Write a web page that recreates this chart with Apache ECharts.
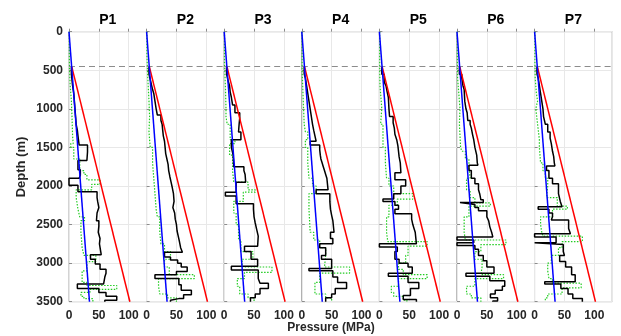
<!DOCTYPE html>
<html><head><meta charset="utf-8">
<script src="https://cdn.jsdelivr.net/npm/echarts@6/dist/echarts.min.js"></script>
<style>html,body{margin:0;padding:0;background:#fff}#c{width:621px;height:336px}</style>
</head><body><div id="c"></div>
<script>
// ---- data ----
const panelNames = ['P1','P2','P3','P4','P5','P6','P7'];
const xTicks = [0, 50, 100];
const depthTicks = [0, 500, 1000, 1500, 2000, 2500, 3000, 3500];
const dashDepth = 445;
// [pressure MPa, depth m]
const hydroLine = [[0, 0], [34.3, 3500]];
const lithoLine = [[4.5, 450], [102, 3500]];

// step profiles: [depth where value starts, value MPa]
const p1Black = [[450,4],[550,6],[700,8],[800,9],[900,10],[1000,11],[1100,12],[1200,14],[1280,15],[1350,17],[1470,31],[1560,30],[1670,15],[1790,19],[1860,17],[1900,0],[1990,15],[2075,47],[2150,48],[2200,50],[2280,47],[2350,46],[2450,50],[2520,49],[2600,52],[2680,51],[2750,54],[2890,36],[2950,44],[3010,52],[3080,62],[3130,60],[3180,58],[3270,14],[3330,50],[3380,62],[3430,80],[3480,60]];
const p1Green = [[0,0.5],[300,1],[500,2],[700,4],[900,5],[1100,6],[1350,7],[1450,3],[1500,8],[1650,18],[1800,25],[1850,30],[1920,52],[1980,38],[2050,12],[2150,15],[2300,18],[2400,26],[2450,20],[2600,22],[2800,25],[2900,45],[2980,30],[3100,22],[3250,30],[3290,80],[3340,35],[3380,20],[3430,25],[3460,40]];
const p2Black = [[450,4],[550,7],[650,10],[750,12],[800,14],[900,16],[1000,18],[1080,24],[1150,26],[1200,27],[1280,28],[1350,30],[1420,31],[1500,32],[1580,34],[1650,36],[1720,37],[1800,39],[1880,41],[1950,43],[2020,45],[2100,46],[2200,44],[2280,47],[2350,48],[2430,50],[2500,51],[2580,53],[2650,55],[2720,57],[2800,60],[2860,30],[2920,40],[2960,52],[3000,58],[3050,68],[3110,50],[3150,14],[3200,54],[3280,58],[3350,75],[3410,62],[3460,54],[3480,40]];
const p2Green = [[0,0.5],[300,2],[600,4],[900,5],[1100,4],[1300,6],[1500,10],[1700,12],[1900,14],[2100,16],[2300,18],[2400,22],[2600,24],[2750,30],[2850,40],[2950,30],[3050,38],[3150,80],[3200,20],[3300,22],[3400,35],[3450,50]];
const p3Black = [[450,4],[550,7],[650,9],[700,10],[780,12],[850,14],[950,18],[1050,26],[1120,25],[1200,24],[1300,28],[1400,12],[1500,15],[1600,16],[1750,33],[1800,35],[1850,36],[1950,20],[2080,2],[2130,20],[2230,49],[2300,50],[2400,52],[2480,54],[2550,57],[2650,56],[2780,34],[2850,45],[2950,56],[3040,12],[3090,57],[3200,60],[3260,74],[3330,60],[3400,52],[3450,44]];
const p3Green = [[0,0.5],[400,2],[700,3],[1000,3],[1100,5],[1200,10],[1400,18],[1450,9],[1600,14],[1800,16],[1950,40],[2050,52],[2080,32],[2200,16],[2350,20],[2500,24],[2700,28],[2850,48],[2950,30],[3050,80],[3120,34],[3200,22],[3300,26],[3400,40],[3450,50]];
const p4Black = [[450,4],[550,6],[600,8],[700,10],[800,12],[900,14],[1000,16],[1100,18],[1200,20],[1280,22],[1350,24],[1420,14],[1470,30],[1530,31],[1600,32],[1650,34],[1700,36],[1750,38],[1800,40],[1850,42],[1900,44],[2050,24],[2100,47],[2200,48],[2300,50],[2380,52],[2450,54],[2600,48],[2680,52],[2750,30],[2800,40],[2900,33],[2950,50],[3070,12],[3100,52],[3180,60],[3250,75],[3330,56],[3400,50],[3450,40]];
const p4Green = [[0,0.5],[500,2],[800,3],[1000,4],[1200,6],[1300,10],[1400,6],[1500,10],[1700,12],[1900,18],[2000,24],[2100,12],[2300,14],[2600,20],[2700,30],[2800,40],[2900,38],[3050,80],[3130,30],[3250,22],[3400,40],[3450,50]];
const p5Black = [[450,4],[550,8],[650,11],[700,13],[780,15],[850,16],[1000,17],[1100,23],[1180,25],[1250,26],[1330,29],[1400,31],[1480,32],[1550,33],[1620,35],[1700,36],[1830,26],[1920,44],[2000,36],[2100,24],[2170,6],[2200,26],[2250,32],[2300,26],[2360,54],[2430,56],[2500,58],[2550,60],[2600,62],[2750,0],[2790,30],[2850,26],[2950,33],[3000,48],[3050,55],[3130,15],[3170,48],[3250,66],[3330,52],[3420,40],[3470,62]];
const p5Green = [[0,0.5],[500,1],[700,3],[900,4],[1000,2],[1200,6],[1500,10],[1700,12],[1900,16],[2000,24],[2100,56],[2170,30],[2250,16],[2400,12],[2600,14],[2720,80],[2780,48],[2900,44],[3000,32],[3080,40],[3150,80],[3200,32],[3300,20],[3380,24],[3430,40],[3480,46]];
const p6Black = [[450,4],[550,8],[600,10],[700,12],[750,13],[900,15],[1000,17],[1050,18],[1150,22],[1200,24],[1250,26],[1330,28],[1400,30],[1500,33],[1600,34],[1700,35],[1730,20],[1800,24],[1900,30],[1970,36],[2050,38],[2100,40],[2180,44],[2215,5],[2240,30],[2280,36],[2320,50],[2400,53],[2450,55],[2530,58],[2600,60],[2660,0],[2700,28],[2735,0],[2770,30],[2820,36],[2900,44],[2970,50],[3050,62],[3130,15],[3170,55],[3230,80],[3300,76],[3350,64],[3400,56],[3450,68],[3490,60]];
const p6Green = [[0,0.5],[300,1],[600,3],[800,5],[1000,4],[1200,6],[1500,8],[1550,14],[1650,20],[1750,22],[1900,16],[2050,22],[2150,30],[2220,56],[2260,20],[2400,12],[2500,12],[2600,14],[2700,82],[2760,40],[2850,30],[2950,42],[3050,40],[3150,78],[3200,30],[3300,16],[3400,24],[3450,40]];
const p7Black = [[450,4],[550,6],[600,8],[700,10],[800,12],[900,14],[1000,15],[1100,18],[1200,22],[1300,26],[1380,28],[1450,30],[1550,32],[1620,33],[1700,34],[1740,20],[1800,24],[1900,30],[1970,40],[2100,43],[2200,46],[2270,6],[2300,24],[2350,30],[2400,28],[2440,57],[2550,60],[2620,0],[2660,36],[2735,0],[2760,48],[2850,50],[2900,42],[2980,52],[3050,62],[3150,68],[3240,17],[3270,44],[3330,56],[3400,64],[3460,80]];
const p7Green = [[0,0.5],[400,1],[600,3],[800,5],[900,2],[1000,5],[1200,8],[1400,8],[1500,10],[1700,14],[1800,18],[1900,22],[2000,20],[2150,38],[2260,55],[2300,30],[2400,10],[2500,12],[2600,14],[2650,80],[2720,46],[2800,40],[2900,28],[3000,22],[3100,24],[3200,30],[3260,78],[3320,46],[3400,22],[3450,18]];

const blackProfiles = [p1Black,p2Black,p3Black,p4Black,p5Black,p6Black,p7Black];
const greenProfiles = [p1Green,p2Green,p3Green,p4Green,p5Green,p6Green,p7Green];

// ---- build ----
const maxDepth = 3500;
function toSteps(profile) {
  const out = [];
  for (let i = 0; i < profile.length; i++) {
    const d0 = profile[i][0], v = profile[i][1];
    const d1 = i + 1 < profile.length ? profile[i + 1][0] : maxDepth;
    out.push([v, d0]); out.push([v, d1]);
  }
  return out;
}

const font = 'Liberation Sans, Arial, Helvetica, sans-serif';
const txt = '#262626';
const L0 = 69, PW = 77.6, TOP = 31.7, PH = 270;

const grids = [], xAxes = [], yAxes = [], series = [], texts = [];
panelNames.forEach((name, i) => {
  grids.push({left: L0 + i * PW, top: TOP, width: PW, height: PH, show: true,
    borderColor: '#a6a6a6', borderWidth: 1, backgroundColor: '#fff'});
  xAxes.push({gridIndex: i, type: 'value', min: 0, max: 130, interval: 50,
    axisLine: {show: false}, axisTick: {show: true, inside: true, length: 3, lineStyle: {color: '#8c8c8c'}},
    splitLine: {show: true, lineStyle: {color: '#e8e8e8', width: 1}},
    axisLabel: {show: true, showMaxLabel: false, color: txt, fontSize: 12, fontWeight: 'bold', fontFamily: font, margin: 8,
      formatter: v => xTicks.includes(v) ? String(v) : ''}});
  yAxes.push({gridIndex: i, type: 'value', inverse: true, min: 0, max: maxDepth, interval: 500,
    axisLine: {show: false}, axisTick: {show: true, inside: true, length: 3, lineStyle: {color: '#8c8c8c'}},
    splitLine: {show: true, lineStyle: {color: '#e8e8e8', width: 1}},
    axisLabel: {show: i === 0, color: txt, fontSize: 12, fontWeight: 'bold', fontFamily: font, margin: 6,
      formatter: v => depthTicks.includes(v) ? String(v) : ''}});
  texts.push({type: 'text', x: L0 + i * PW + PW / 2, y: 20,
    style: {text: name, align: 'center', verticalAlign: 'middle', textAlign: 'center', textVerticalAlign: 'middle',
      fontSize: 14, fontWeight: 'bold', fill: '#000', fontFamily: font}});
  series.push({type: 'line', xAxisIndex: i, yAxisIndex: i, data: toSteps(greenProfiles[i]), showSymbol: false,
    lineStyle: {color: '#22cc22', width: 1.2, type: [1.5, 1.5]}, z: 2, animation: false,
    markLine: {silent: true, symbol: 'none', label: {show: false},
      lineStyle: {color: '#8c8c8c', type: [6, 4], width: 1}, data: [{yAxis: dashDepth}]}});
  series.push({type: 'line', xAxisIndex: i, yAxisIndex: i, data: toSteps(blackProfiles[i]), showSymbol: false,
    lineStyle: {color: '#000', width: 1.5}, z: 3, animation: false});
  series.push({type: 'line', xAxisIndex: i, yAxisIndex: i, data: lithoLine, showSymbol: false,
    lineStyle: {color: '#ff0000', width: 1.5}, z: 4, animation: false});
  series.push({type: 'line', xAxisIndex: i, yAxisIndex: i, data: hydroLine, showSymbol: false,
    lineStyle: {color: '#0000ff', width: 1.5}, z: 5, animation: false});
});

texts.push({type: 'text', x: 331, y: 328,
  style: {text: 'Pressure (MPa)', align: 'center', verticalAlign: 'middle', textAlign: 'center', textVerticalAlign: 'middle',
    fontSize: 12, fontWeight: 'bold', fill: txt, fontFamily: font}});
texts.push({type: 'text', x: 21, y: 167, rotation: Math.PI / 2,
  style: {text: 'Depth (m)', align: 'center', verticalAlign: 'middle', textAlign: 'center', textVerticalAlign: 'middle',
    fontSize: 13, fontWeight: 'bold', fill: txt, fontFamily: font}});

const chart = echarts.init(document.getElementById('c'), null, {renderer: 'canvas'});
chart.setOption({
  animation: false,
  backgroundColor: '#fff',
  grid: grids, xAxis: xAxes, yAxis: yAxes, series: series,
  graphic: texts
});
</script></body></html>
